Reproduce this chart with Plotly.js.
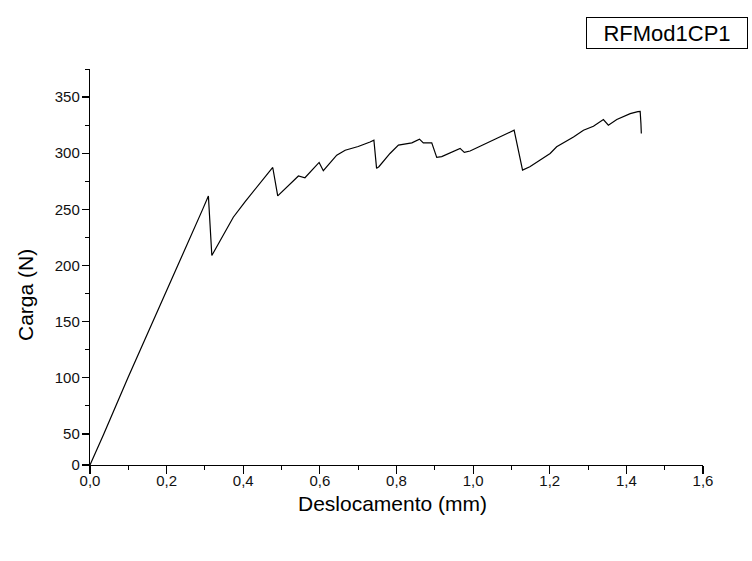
<!DOCTYPE html>
<html>
<head>
<meta charset="utf-8">
<script src="https://cdn.plot.ly/plotly-3.0.1.min.js"></script>
<style>html,body{margin:0;padding:0;background:#fff;}#chart{width:752px;height:561px;}</style>
</head>
<body>
<div id="chart"></div>
<script>
// Deslocamento (mm)
const deslocamento = [0, 0.036, 0.099, 0.165, 0.229, 0.294, 0.309, 0.318, 0.374, 0.405, 0.448, 0.477, 0.490,
  0.522, 0.544, 0.561, 0.598, 0.609, 0.644, 0.666, 0.700, 0.731, 0.741, 0.748, 0.754, 0.783, 0.805, 0.840, 0.860,
  0.870, 0.892, 0.905, 0.918, 0.966, 0.977, 0.992, 1.035, 1.079, 1.107, 1.129, 1.148, 1.175, 1.201, 1.218, 1.262,
  1.288, 1.314, 1.340, 1.353, 1.375, 1.410, 1.430, 1.436, 1.438, 1.439];
// Carga (N)
const carga = [0, 50, 100, 150, 200, 250, 262, 209, 243, 257, 274.6, 287.3, 262,
  273, 279.7, 278.2, 291.8, 284.4, 298.3, 302.7, 306, 310, 311.6, 286.5, 288, 299.8, 307.2, 309.2, 312.5,
  309.2, 309.2, 296.3, 297, 304.3, 300.7, 302, 308.7, 316, 320.5, 285, 288, 293.9, 299.8, 305.7, 314.5,
  320.5, 324, 330, 325, 330, 335.3, 337, 337.3, 326.4, 317.6];
// y axis as drawn: the 0-50 band is compressed below the regular 50-375 scale
const yTicksUpper = [50, 100, 150, 200, 250, 300, 350];
const yTicksLower = [0];
const seriesName = 'RFMod1CP1';
const xTitle = 'Deslocamento (mm)';
const yTitle = 'Carga (N)';

const FONT = 'Arial, "Liberation Sans", sans-serif';

// plot area geometry (px)
const W = 752, H = 561, L = 90, R = 703, T = 69, B = 465, BREAK = 434;
const plotH = B - T;
const lowerFrac = (B - BREAK) / plotH;

const common = {
  x: deslocamento, y: carga, type: 'scatter', mode: 'lines', name: seriesName,
  line: {color: '#000', width: 1.2}, showlegend: false, hoverinfo: 'skip'
};
const traceUpper = Object.assign({}, common, {xaxis: 'x', yaxis: 'y'});
const traceLower = Object.assign({}, common, {xaxis: 'x', yaxis: 'y2'});

const yCommon = {
  showline: true, linecolor: '#000', linewidth: 1.2,
  ticks: 'outside', ticklen: 7, tickwidth: 1.2, tickcolor: '#000',
  showgrid: false, zeroline: false, anchor: 'x',
  tickfont: {size: 15, family: FONT, color: '#111'}, ticklabelstandoff: -1
};

const layout = {
  width: W, height: H,
  margin: {l: L, r: W - R, t: T, b: H - B},
  paper_bgcolor: '#fff', plot_bgcolor: '#fff',
  separators: ',.',
  font: {family: FONT, color: '#000', size: 15},
  xaxis: {
    range: [0, 1.6], dtick: 0.2, tick0: 0, tickformat: '.1f', anchor: 'y2',
    showline: true, linecolor: '#000', linewidth: 1.2,
    ticks: 'outside', ticklen: 8, tickwidth: 1.2, tickcolor: '#000',
    minor: {dtick: 0.1, ticks: 'outside', ticklen: 4, tickwidth: 1, tickcolor: '#000'},
    showgrid: false, zeroline: false,
    tickfont: {size: 15, family: FONT, color: '#111'}, ticklabelstandoff: -6
  },
  yaxis: Object.assign({}, yCommon, {
    domain: [lowerFrac, 1], range: [50, 375], tickvals: yTicksUpper,
    minor: {tickvals: [75, 125, 175, 225, 275, 325, 375], ticks: 'outside', ticklen: 4, tickwidth: 1, tickcolor: '#000'}
  }),
  yaxis2: Object.assign({}, yCommon, {
    domain: [0, lowerFrac], range: [0, 50], tickvals: yTicksLower
  }),
  annotations: [{
    text: seriesName, xref: 'paper', yref: 'paper',
    x: (748 - L) / (R - L), y: (B - 33) / plotH, xanchor: 'right', yanchor: 'middle',
    showarrow: false, width: 158, height: 28, align: 'center',
    bordercolor: '#000', borderwidth: 1, borderpad: 1, bgcolor: '#fff',
    font: {size: 22, family: FONT, color: '#000'}
  }, {
    text: yTitle, xref: 'paper', yref: 'paper', textangle: -90,
    x: (25 - L) / (R - L), y: (B - 295) / plotH, xanchor: 'center', yanchor: 'middle',
    showarrow: false, font: {size: 21, family: FONT, color: '#000'}
  }, {
    text: xTitle, xref: 'paper', yref: 'paper',
    x: (392 - L) / (R - L), y: (B - 490) / plotH, xanchor: 'center', yanchor: 'top',
    showarrow: false, font: {size: 21, family: FONT, color: '#000'}
  }]
};

Plotly.newPlot('chart', [traceUpper, traceLower], layout, {displayModeBar: false, staticPlot: true});
</script>
</body>
</html>
